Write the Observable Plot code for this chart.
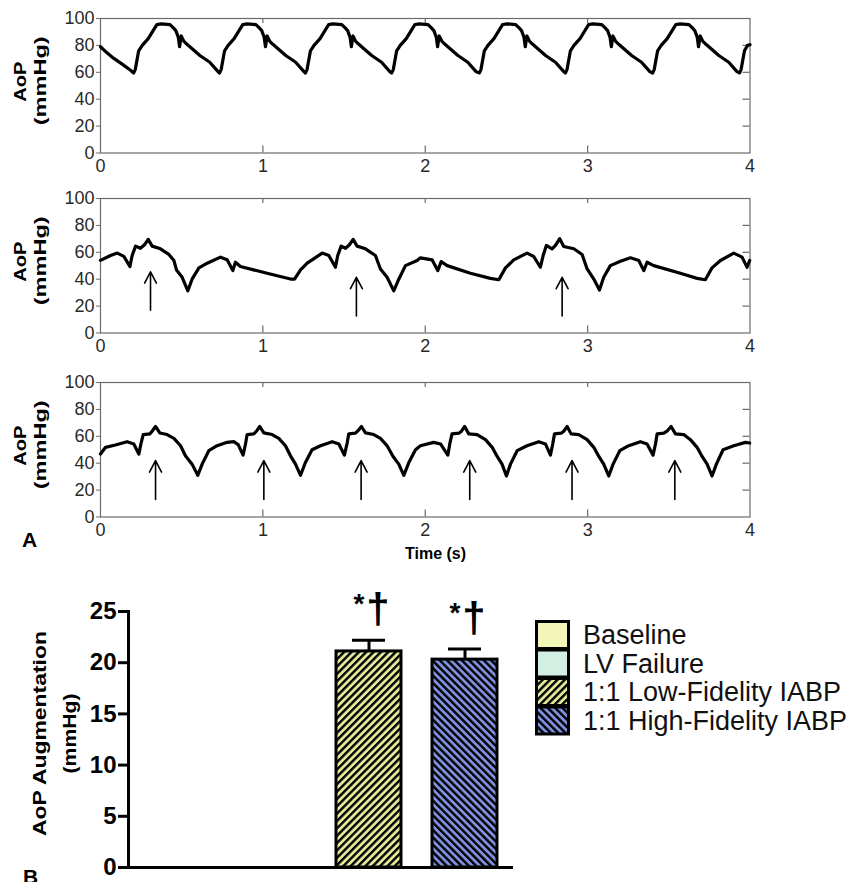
<!DOCTYPE html>
<html><head><meta charset="utf-8">
<script src="https://cdn.jsdelivr.net/npm/d3@7"></script>
<script src="https://cdn.jsdelivr.net/npm/@observablehq/plot@0.6"></script>
<style>
body{margin:0;background:#fff;}
#root{position:relative;width:855px;height:882px;overflow:hidden;background:#fff;}
</style></head><body>
<svg width="0" height="0" style="position:absolute">
<defs>
<pattern id="hatchLow" patternUnits="userSpaceOnUse" width="5.2" height="5.2" patternTransform="rotate(45)">
<rect width="5.2" height="5.2" fill="#e2ea9a"/><rect width="2.4" height="5.2" fill="#000"/>
</pattern>
<pattern id="hatchHigh" patternUnits="userSpaceOnUse" width="5.2" height="5.2" patternTransform="rotate(-45)">
<rect width="5.2" height="5.2" fill="#7e90de"/><rect width="2.4" height="5.2" fill="#000"/>
</pattern>
</defs></svg>
<div id="root"></div>
<script>
// ---------- data ----------
const timeTicks = [0, 1, 2, 3, 4];
const pressureTicks = [0, 20, 40, 60, 80, 100];
const panelYLabel = ["AoP", "(mmHg)"];
const timeLabel = "Time (s)";
const panelLetters = ["A", "B"];

// Panel 1: baseline aortic pressure [t (s), mmHg]
const wave1 = [[0,79],[0.04,74.5],[0.08,70.5],[0.14,65.5],[0.185,61.5],
[0.204,59.5],[0.214,62],[0.235,76],[0.257,80],[0.294,85],[0.347,95.5],[0.374,96],[0.428,95.5],[0.449,93],[0.464,91],[0.479,86],[0.487,79],[0.497,87],[0.514,83],[0.531,81],[0.612,72.5],[0.673,67.5],[0.724,60.5],
[0.733,59.5],[0.743,62],[0.764,76],[0.786,80],[0.823,85],[0.876,95.5],[0.903,96],[0.957,95.5],[0.978,93],[0.993,91],[1.008,86],[1.016,79],[1.026,87],[1.043,83],[1.06,81],[1.141,72.5],[1.202,67.5],[1.253,60.5],
[1.262,59.5],[1.272,62],[1.293,76],[1.315,80],[1.352,85],[1.405,95.5],[1.432,96],[1.486,95.5],[1.507,93],[1.522,91],[1.537,86],[1.545,79],[1.555,87],[1.572,83],[1.589,81],[1.67,72.5],[1.731,67.5],[1.782,60.5],
[1.793,59.5],[1.803,62],[1.824,76],[1.846,80],[1.883,85],[1.936,95.5],[1.963,96],[2.017,95.5],[2.038,93],[2.053,91],[2.068,86],[2.076,79],[2.086,87],[2.103,83],[2.12,81],[2.201,72.5],[2.262,67.5],[2.313,60.5],
[2.333,59.5],[2.343,62],[2.364,76],[2.386,80],[2.423,85],[2.476,95.5],[2.503,96],[2.557,95.5],[2.578,93],[2.593,91],[2.608,86],[2.616,79],[2.626,87],[2.643,83],[2.66,81],[2.741,72.5],[2.802,67.5],[2.853,60.5],
[2.863,59.5],[2.873,62],[2.894,76],[2.916,80],[2.953,85],[3.006,95.5],[3.033,96],[3.087,95.5],[3.108,93],[3.123,91],[3.138,86],[3.146,79],[3.156,87],[3.173,83],[3.19,81],[3.271,72.5],[3.332,67.5],[3.383,60.5],
[3.4,59.5],[3.41,62],[3.431,76],[3.453,80],[3.49,85],[3.543,95.5],[3.57,96],[3.624,95.5],[3.645,93],[3.66,91],[3.675,86],[3.683,79],[3.693,87],[3.71,83],[3.727,81],[3.808,72.5],[3.869,67.5],[3.92,60.5],
[3.935,59.5],[3.945,62],[3.966,76],[3.985,80],[4.0,80.5]];

// Panel 2: LV failure with low-fidelity IABP
const wave2 = [[0,54],[0.062,57.6],[0.103,59.4],[0.144,57],[0.181,49.4],[0.195,57.6],[0.216,64.6],[0.246,63],[0.271,65.6],[0.294,69.6],[0.318,64.6],[0.369,62.6],[0.421,58.4],[0.452,53.9],[0.468,46.9],[0.503,41.4],[0.538,31.4],[0.564,40],[0.606,48.4],[0.657,51.9],[0.739,56.4],[0.78,54.4],[0.815,46.4],[0.831,52.6],[0.862,49.4],[1.026,44.4],[1.17,40.1],[1.195,40.1],[1.232,46.9],[1.273,51.9],[1.365,59.4],[1.406,57.6],[1.447,48.9],[1.461,57.6],[1.482,64.6],[1.509,63],[1.533,65.6],[1.556,69.6],[1.58,64.6],[1.632,62.6],[1.693,57.6],[1.724,47.6],[1.765,41.4],[1.806,31.4],[1.837,40],[1.878,50.1],[1.95,53.9],[1.97,55.9],[2.042,54.4],[2.077,46.4],[2.098,53.1],[2.135,50.1],[2.278,44.4],[2.401,40.6],[2.453,39.6],[2.494,48.4],[2.545,54.4],[2.627,59.4],[2.668,56.9],[2.709,48.9],[2.726,57.6],[2.746,65.1],[2.781,62.6],[2.802,65.1],[2.828,70.1],[2.853,64.3],[2.915,62.6],[2.966,58.4],[2.997,47.6],[3.038,40.1],[3.073,31.9],[3.099,41.4],[3.14,50.1],[3.202,53.4],[3.264,55.9],[3.315,53.9],[3.346,46.4],[3.366,52.6],[3.407,50.1],[3.571,44.4],[3.674,40.6],[3.725,39.6],[3.766,48.4],[3.818,53.9],[3.9,59.4],[3.951,56.4],[3.982,48.9],[3.998,53.9]];
// arrows: [t, tip mmHg, tail mmHg]
const arrows2 = [[0.308,45.5,17],[1.576,41.4,12.7],[2.843,41.4,12.7]];

// Panel 3: LV failure with high-fidelity IABP
const wave3 = [[0,46.8],[0.031,51.8],[0.092,53.5],[0.164,56],[0.205,54.3],[0.236,46.8],[0.25,55],[0.263,61.3],[0.304,61.8],[0.318,63.8],[0.339,67.3],[0.365,62.5],[0.41,61.3],[0.452,58.5],[0.493,53],[0.523,45.5],[0.564,39.3],[0.599,31],[0.626,39.3],[0.667,49.3],[0.718,53],[0.78,55.5],[0.821,56],[0.848,53.8],[0.878,46],[0.893,54.3],[0.903,61.3],[0.944,61.8],[0.961,63.8],[0.981,67.3],[1.006,62.5],[1.057,61.3],[1.098,58.5],[1.139,53],[1.17,45.5],[1.201,39.3],[1.232,31],[1.262,40.5],[1.303,50],[1.355,53],[1.427,56],[1.468,54.3],[1.502,46],[1.519,55],[1.529,61.8],[1.57,62.3],[1.585,64],[1.607,67.3],[1.632,62.5],[1.683,61.3],[1.724,58.5],[1.765,53],[1.802,45],[1.837,39.3],[1.868,31],[1.899,40.5],[1.94,50],[1.97,53],[2.052,55.5],[2.094,54.3],[2.139,46],[2.151,54.3],[2.165,61.8],[2.207,62.3],[2.223,63.8],[2.243,67.3],[2.268,61.8],[2.319,61.3],[2.371,57.5],[2.412,51.8],[2.443,45],[2.473,39.3],[2.5,30.5],[2.525,39.3],[2.566,49.3],[2.627,53],[2.699,56],[2.74,54.3],[2.771,46],[2.785,54.3],[2.796,61.8],[2.837,62.3],[2.853,63.8],[2.874,67.3],[2.898,61.8],[2.945,61.3],[2.997,57.5],[3.038,51.8],[3.069,45],[3.099,39.3],[3.13,30.5],[3.157,39.3],[3.198,49.3],[3.253,53],[3.325,56],[3.366,54.3],[3.403,46],[3.418,54.3],[3.428,61.8],[3.469,62.3],[3.489,63.8],[3.514,67.3],[3.541,61.8],[3.592,61.3],[3.633,57.5],[3.674,51.8],[3.705,45],[3.736,39.3],[3.766,30.5],[3.793,39.3],[3.834,50],[3.9,53],[3.972,55.5],[3.998,55]];
const arrows3 = [[0.339,42,13],[1.006,42,13],[1.605,42,13],[2.274,42,13],[2.904,42,13],[3.537,42,13]];

// Panel B: AoP augmentation
const groups = ["Baseline", "LV Failure", "1:1 Low-Fidelity IABP", "1:1 High-Fidelity IABP"];
const augMean = [null, null, 21.1, 20.3];
const augSem = [null, null, 1.1, 1.05];
const augSigStar = ["", "", "*", "*"];
const augSigDagger = ["", "", "†", "†"];
const augTicks = [0, 5, 10, 15, 20, 25];
const augYLabel = ["AoP Augmentation", "(mmHg)"];

// ---------- styles ----------
const groupFills = ["#f2f6b8", "#d3efe3", "url(#hatchLow)", "url(#hatchHigh)"];
const FONT = '"Liberation Sans", Arial, Helvetica, sans-serif';
const GRAY = "#6b6b6b";

const root = document.getElementById("root");
function place(el, top, left = 0) {
  el.style.position = "absolute"; el.style.top = top + "px"; el.style.left = left + "px";
  root.appendChild(el); return el;
}
// stretch a rotated, centred label along its own direction
function stretchText(svg, label, len) {
  d3.select(svg).selectAll("text")
    .filter(function () { return this.textContent === label; })
    .each(function () {
      const nat = this.getComputedTextLength();
      if (!nat) return;
      const t = this.getAttribute("transform") || "";
      this.setAttribute("transform", `${t} scale(${len / nat},1)`);
    });
}

function wavePanel(wave, arrows, top) {
  const W = 855, H = 180, mt = 18, mb = 27.5, ml = 100, mr = 105.5;
  const ih = H - mt - mb, iw = W - ml - mr;
  const innerT = timeTicks.filter(t => t > 0 && t < 4);
  const innerP = pressureTicks.filter(p => p > 0 && p < 100);
  const svg = Plot.plot({
    width: W, height: H, marginTop: mt, marginBottom: mb, marginLeft: ml, marginRight: mr,
    x: {domain: [0, 4]}, y: {domain: [0, 100]},
    style: {fontFamily: FONT, fontSize: "18px", color: "#2a2a2a", background: "transparent", overflow: "visible"},
    marks: [
      Plot.frame({stroke: GRAY, strokeWidth: 1.2}),
      Plot.tickX(innerT, {x: d => d, insetTop: ih - 7, stroke: GRAY, strokeWidth: 1.2}),
      Plot.tickX(innerT, {x: d => d, insetBottom: ih - 5, stroke: GRAY, strokeWidth: 1.2}),
      Plot.tickY(innerP, {y: d => d, insetLeft: iw - 7, stroke: GRAY, strokeWidth: 1.2}),
      Plot.axisX(timeTicks, {tickSize: 0, tickPadding: 6, label: null, fontSize: 18, tickFormat: d => String(d)}),
      Plot.axisY(pressureTicks, {tickSize: 4, tickPadding: 2, stroke: GRAY, label: null, fontSize: 18, tickFormat: d => String(d)}),
      Plot.line(wave, {x: d => d[0], y: d => d[1], stroke: "#000", strokeWidth: 3.2, strokeLinejoin: "round", strokeLinecap: "round"}),
      Plot.arrow(arrows, {x: d => d[0], y1: d => d[2], y2: d => d[1], stroke: "#000", strokeWidth: 1.6, headLength: 13, headAngle: 55}),
      Plot.text([panelYLabel[0]], {text: d => d, frameAnchor: "left", textAnchor: "middle", dx: -79.5, dy: -4, rotate: -90, fontSize: 16, fontWeight: "bold", fill: "#000"}),
      Plot.text([panelYLabel[1]], {text: d => d, frameAnchor: "left", textAnchor: "middle", dx: -60, dy: -5, rotate: -90, fontSize: 16, fontWeight: "bold", fill: "#000"})
    ]
  });
  place(svg, top);
  stretchText(svg, panelYLabel[0], 40);
  stretchText(svg, panelYLabel[1], 89);
  return svg;
}

wavePanel(wave1, [], 0);
wavePanel(wave2, arrows2, 180);
wavePanel(wave3, arrows3, 364);

// ---------- bar chart ----------
const barData = groups.map((g, i) => ({group: g, mean: augMean[i], sem: augSem[i], star: augSigStar[i], dagger: augSigDagger[i], fill: groupFills[i]}));
const shown = barData.filter(d => d.mean != null);
const bar = Plot.plot({
  width: 530, height: 292, marginTop: 21, marginBottom: 15, marginLeft: 128, marginRight: 17,
  x: {domain: groups, paddingInner: 0.325, paddingOuter: 0.1625, axis: null},
  y: {domain: [0, 25]},
  style: {fontFamily: FONT, color: "#000", background: "transparent", overflow: "visible"},
  marks: [
    ...shown.map(d => Plot.barY([d], {x: "group", y: "mean", fill: d.fill, stroke: "#000", strokeWidth: 3})),
    Plot.ruleX(shown, {x: "group", y1: "mean", y2: d => d.mean + d.sem, stroke: "#000", strokeWidth: 3}),
    Plot.tickY(shown, {x: "group", y: d => d.mean + d.sem, insetLeft: 16, insetRight: 16, stroke: "#000", strokeWidth: 3}),
    Plot.text(shown, {x: "group", y: d => d.mean + d.sem, text: "dagger", dx: 9, dy: -17, lineAnchor: "bottom", fontSize: 42, fontWeight: "bold", fill: "#000"}),
    Plot.text(shown, {x: "group", y: d => d.mean + d.sem, text: "star", dx: -10, dy: -27, lineAnchor: "bottom", fontSize: 28, fontWeight: "bold", fill: "#000"}),
    Plot.ruleY([0], {stroke: "#000", strokeWidth: 3}),
    Plot.frame({anchor: "left", stroke: "#000", strokeWidth: 3}),
    Plot.axisY(augTicks, {tickSize: 10, tickPadding: 2, strokeWidth: 3, fontSize: 24, fontWeight: "bold", label: null}),
    Plot.text([augYLabel[0]], {text: d => d, frameAnchor: "left", textAnchor: "middle", dx: -88, dy: -6, rotate: -90, fontSize: 18, fontWeight: "bold", fill: "#000"}),
    Plot.text([augYLabel[1]], {text: d => d, frameAnchor: "left", textAnchor: "middle", dx: -58, dy: -6, rotate: -90, fontSize: 18, fontWeight: "bold", fill: "#000"})
  ]
});
place(bar, 590);
stretchText(bar, augYLabel[0], 205);
stretchText(bar, augYLabel[1], 80);

// ---------- overlay: panel letters, time label, legend ----------
const ov = d3.create("svg").attr("width", 855).attr("height", 882)
  .style("font-family", FONT).style("pointer-events", "none");
ov.append("text").attr("x", 22).attr("y", 547).attr("font-size", 21).attr("font-weight", "bold").text(panelLetters[0]);
ov.append("text").attr("x", 23).attr("y", 884).attr("font-size", 21).attr("font-weight", "bold").text(panelLetters[1]);
ov.append("text").attr("x", 405).attr("y", 558.5).attr("font-size", 16).attr("font-weight", "bold").text(timeLabel);
const lg = ov.append("g");
groups.forEach((g, i) => {
  lg.append("rect").attr("x", 536.5).attr("y", 621.5 + i * 28.5).attr("width", 32).attr("height", 27)
    .attr("fill", groupFills[i]).attr("stroke", "#000").attr("stroke-width", 3);
  lg.append("text").attr("x", 583).attr("y", 635 + i * 28.5).attr("dominant-baseline", "central")
    .attr("font-size", 27).attr("fill", "#111").text(g);
});
place(ov.node(), 0);
</script>
</body></html>
